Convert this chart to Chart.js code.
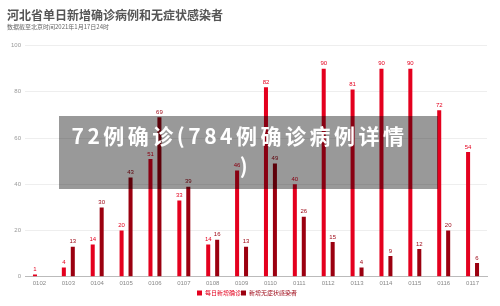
<!DOCTYPE html>
<html>
<head>
<meta charset="utf-8">
<script src="https://cdn.jsdelivr.net/npm/chart.js@4"></script>
<style>
  html, body { margin: 0; padding: 0; background: #fff; }
  #wrap { position: relative; width: 500px; height: 306px; }
  #overlay {
    position: absolute; left: 59px; top: 116px; width: 379px; height: 73px;
    background: rgba(0, 0, 0, 0.4); color: #fff; text-align: center;
    font-family: "Noto Sans CJK SC", sans-serif; font-weight: bold;
    font-size: 21px; line-height: 30px; letter-spacing: 3.5px;
    padding-top: 4px; padding-right: 18px;
    box-sizing: border-box;
  }
  #overlay span { position: relative; left: 6px; }
</style>
</head>
<body>
<div id="wrap">
  <canvas id="chart" width="500" height="306"></canvas>
  <div id="overlay">72例确诊(784例确诊病例详情<br><span>)</span></div>
</div>
<script>
// Data
const days = ['0102', '0103', '0104', '0105', '0106', '0107', '0108', '0109',
              '0110', '0111', '0112', '0113', '0114', '0115', '0116', '0117'];
const confirmed = [1, 4, 14, 20, 51, 33, 14, 46, 82, 40, 90, 81, 90, 90, 72, 54];
const asymptomatic = [null, 13, 30, 43, 69, 39, 16, 13, 49, 26, 15, 4, 9, 12, 20, 6];
const yTicks = [0, 20, 40, 60, 80, 100];

const RED = 'rgb(228, 0, 30)';
const DARK = 'rgb(155, 0, 16)';
const FONT = '"Liberation Sans", "Noto Sans CJK SC", sans-serif';

// draws the value above every bar
const valueLabels = {
  id: 'valueLabels',
  afterDatasetsDraw(chart) {
    const ctx = chart.ctx;
    ctx.save();
    ctx.font = '6px ' + FONT;
    ctx.textAlign = 'center';
    ctx.textBaseline = 'bottom';
    chart.data.datasets.forEach((ds, i) => {
      chart.getDatasetMeta(i).data.forEach((bar, j) => {
        const v = ds.data[j];
        if (v === null) return;
        ctx.fillStyle = ds.backgroundColor;
        ctx.fillText(v, bar.x, bar.y - 2);
      });
    });
    ctx.restore();
  }
};

new Chart(document.getElementById('chart'), {
  type: 'bar',
  data: {
    labels: days,
    datasets: [
      { label: '每日新增确诊', data: confirmed, backgroundColor: RED },
      { label: '新增无症状感染者', data: asymptomatic, backgroundColor: DARK }
    ]
  },
  options: {
    responsive: false,
    animation: false,
    categoryPercentage: 0.62,
    barPercentage: 0.45,
    layout: { padding: { left: 7, right: 13, top: 0, bottom: 0 } },
    plugins: {
      title: {
        display: true,
        text: '河北省单日新增确诊病例和无症状感染者',
        align: 'start',
        color: '#555',
        font: { family: '"Noto Sans CJK SC", sans-serif', size: 12, weight: 'bold' },
        padding: { top: 8, bottom: 1 }
      },
      subtitle: {
        display: true,
        text: '数据截至北京时间2021年1月17日24时',
        align: 'start',
        color: '#666',
        font: { family: '"Noto Sans CJK SC", sans-serif', size: 6 },
        padding: { bottom: 15 }
      },
      legend: {
        position: 'bottom',
        labels: {
          boxWidth: 5,
          boxHeight: 5,
          padding: 0,
          font: { family: '"Noto Sans CJK SC", sans-serif', size: 6 },
          generateLabels(chart) {
            return chart.data.datasets.map((ds, i) => ({
              text: ds.label,
              fillStyle: ds.backgroundColor,
              strokeStyle: ds.backgroundColor,
              fontColor: ds.backgroundColor,
              lineWidth: 0,
              datasetIndex: i
            }));
          }
        }
      },
      tooltip: { enabled: false }
    },
    scales: {
      x: {
        grid: { display: false, drawTicks: false },
        border: { color: '#bbb' },
        ticks: { color: '#888', font: { family: FONT, size: 6 }, padding: 3 }
      },
      y: {
        min: 0,
        max: 100,
        afterBuildTicks(axis) { axis.ticks = yTicks.map(v => ({ value: v })); },
        grid: { color: '#eee', drawTicks: false },
        border: { display: false },
        ticks: { color: '#999', font: { family: FONT, size: 6 }, padding: 4 }
      }
    }
  },
  plugins: [valueLabels]
});
</script>
</body>
</html>
